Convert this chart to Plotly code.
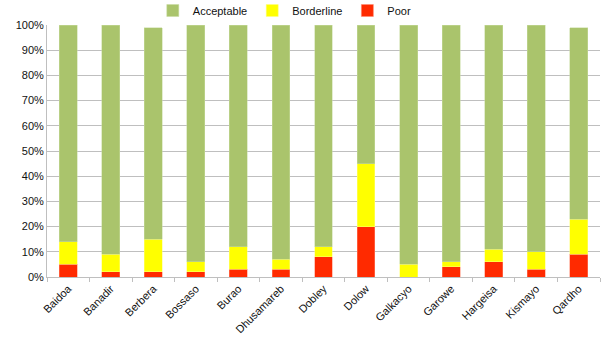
import plotly.graph_objects as go

categories = ["Baidoa", "Banadir", "Berbera", "Bossaso", "Burao", "Dhusamareb", "Dobley",
              "Dolow", "Galkacyo", "Garowe", "Hargeisa", "Kismayo", "Qardho"]
poor = [5, 2, 2, 2, 3, 3, 8, 20, 0, 4, 6, 3, 9]
borderline = [9, 7, 13, 4, 9, 4, 4, 25, 5, 2, 5, 7, 14]
acceptable = [86, 91, 84, 94, 88, 93, 88, 55, 95, 94, 89, 90, 76]
tick_vals = [0, 10, 20, 30, 40, 50, 60, 70, 80, 90, 100]
tick_text = [f"{v}%" for v in tick_vals]

fig = go.Figure()
fig.add_bar(name="Poor", x=categories, y=poor, marker_color="#FF2A00",
            marker_line=dict(color="#FF8A70", width=0.5))
fig.add_bar(name="Borderline", x=categories, y=borderline, marker_color="#FFFF00",
            marker_line=dict(color="#FFFF80", width=0.5))
fig.add_bar(name="Acceptable", x=categories, y=acceptable, marker_color="#AAC46C",
            marker_line=dict(color="#C8DBA0", width=0.5))

fig.update_layout(
    barmode="stack",
    bargap=0.58,
    width=616, height=338,
    margin=dict(l=47, r=16, t=25, b=61, autoexpand=False),
    paper_bgcolor="white", plot_bgcolor="white",
    font=dict(family="Liberation Sans, Arial, sans-serif", size=11, color="#111111"),
    legend=dict(orientation="h", traceorder="reversed", x=0.43, xanchor="center",
                y=1.0, yanchor="bottom", font=dict(size=11), itemwidth=30,
                bgcolor="rgba(0,0,0,0)"),
    showlegend=True,
)
fig.update_yaxes(range=[0, 100], tickvals=tick_vals, ticktext=tick_text,
                 showgrid=True, gridcolor="#BFBFBF", gridwidth=1,
                 showline=True, linecolor="#BFBFBF", zeroline=False,
                 ticks="", tickfont=dict(size=11))
fig.update_xaxes(tickangle=-45, showline=True, linecolor="#BFBFBF",
                 ticks="outside", tickson="boundaries", ticklen=4, tickcolor="#BFBFBF",
                 tickfont=dict(size=11))

fig.write_html("out.html")
